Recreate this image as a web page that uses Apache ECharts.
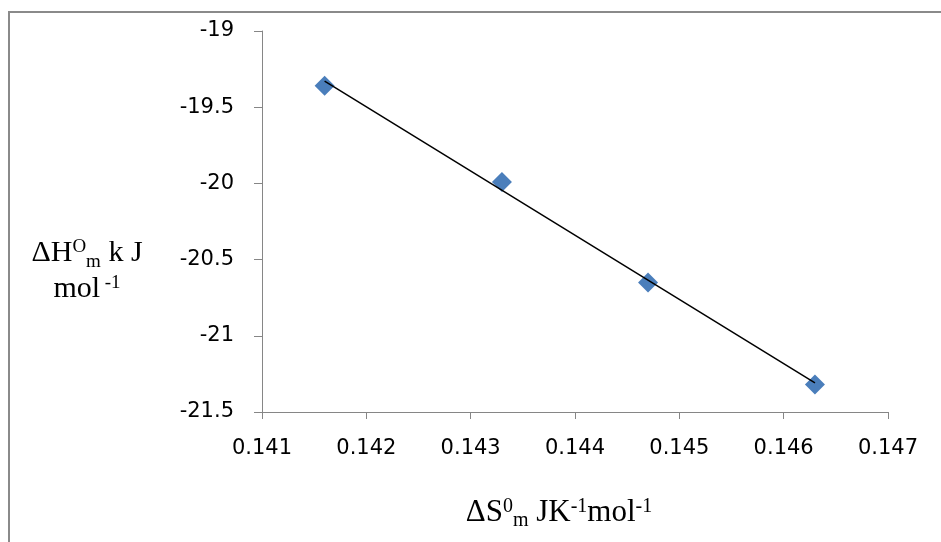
<!DOCTYPE html>
<html>
<head>
<meta charset="utf-8">
<script src="https://cdn.jsdelivr.net/npm/echarts@6/dist/echarts.min.js"></script>
<style>
html,body{margin:0;padding:0;background:#fff;}
#chart{width:941px;height:542px;}
</style>
</head>
<body>
<div id="chart"></div>
<script>
// Data
const entropyValues = [0.1416, 0.1433, 0.1447, 0.1463];     // ΔS0m (x)
const enthalpyValues = [-19.36, -19.99, -20.65, -21.32];   // ΔH0m (y)
const xTickRange = { min: 0.141, max: 0.147, step: 0.001 };
const yTickRange = { min: -21.5, max: -19, step: 0.5 };

// linear least-squares trendline computed from the data
function linearFit(xs, ys) {
  const n = xs.length;
  const mx = xs.reduce((a, b) => a + b, 0) / n;
  const my = ys.reduce((a, b) => a + b, 0) / n;
  let sxy = 0, sxx = 0;
  for (let i = 0; i < n; i++) { sxy += (xs[i] - mx) * (ys[i] - my); sxx += (xs[i] - mx) * (xs[i] - mx); }
  const slope = sxy / sxx;
  return { slope, intercept: my - slope * mx };
}
const fit = linearFit(entropyValues, enthalpyValues);
const xLo = Math.min(...entropyValues), xHi = Math.max(...entropyValues);
const trendData = [[xLo, fit.intercept + fit.slope * xLo], [xHi, fit.intercept + fit.slope * xHi]];
const scatterData = entropyValues.map((x, i) => [x, enthalpyValues[i]]);

const serif = '"Liberation Serif", "Times New Roman", serif';
const sans = '"DejaVu Sans", sans-serif';
const titleRich = {
  b: { fontFamily: serif, fontSize: 30, color: '#000', lineHeight: 36 },
  sup: { fontFamily: serif, fontSize: 19, color: '#000', verticalAlign: 'top', lineHeight: 19, padding: [2, 0, 0, 0] },
  sub: { fontFamily: serif, fontSize: 19, color: '#000', verticalAlign: 'bottom', lineHeight: 19 }
};
const xTitleRich = Object.assign({}, titleRich, {
  b: { fontFamily: serif, fontSize: 31, color: '#000', lineHeight: 36 },
  sup: { fontFamily: serif, fontSize: 20, color: '#000', verticalAlign: 'top', lineHeight: 20, padding: [2, 0, 0, 0] },
  sub: { fontFamily: serif, fontSize: 20, color: '#000', verticalAlign: 'bottom', lineHeight: 20 }
});

const chart = echarts.init(document.getElementById('chart'));
chart.setOption({
  animation: false,
  backgroundColor: '#fff',
  grid: { left: 262, right: 53, top: 31, bottom: 130, containLabel: false, outerBoundsMode: 'none' },
  graphic: [{
    type: 'rect', silent: true,
    shape: { x: 9, y: 12, width: 1000, height: 1000 },
    style: { fill: 'none', stroke: '#8a8a8a', lineWidth: 2 }
  }],
  xAxis: {
    type: 'value', min: xTickRange.min, max: xTickRange.max, interval: xTickRange.step,
    splitLine: { show: false },
    axisLine: { onZero: false, lineStyle: { color: '#868686', width: 1 } },
    axisTick: { length: 7, lineStyle: { color: '#868686' } },
    axisLabel: { margin: 26, fontFamily: sans, fontSize: 21, color: '#000', formatter: v => v.toFixed(3) },
    name: '{b|ΔS}{sup|0}{sub|m}{b| JK}{sup|-1}{b|mol}{sup|-1}',
    nameLocation: 'middle', nameGap: 83,
    nameTextStyle: { rich: xTitleRich, padding: [0, 32, 0, 0] }
  },
  yAxis: {
    type: 'value', min: yTickRange.min, max: yTickRange.max, interval: yTickRange.step,
    splitLine: { show: false },
    axisLine: { onZero: false, lineStyle: { color: '#868686', width: 1 } },
    axisTick: { length: 8, lineStyle: { color: '#868686' } },
    axisLabel: { margin: 28, fontFamily: sans, fontSize: 21, color: '#000', formatter: v => String(+v.toFixed(1)) },
    name: '{b|ΔH}{sup|O}{sub|m}{b| k J}\n{b|mol}{sup| -1}',
    nameLocation: 'middle', nameRotate: 0, nameGap: 175,
    nameTextStyle: { rich: titleRich, align: 'center', verticalAlign: 'middle', padding: [100, 0, 0, 0] }
  },
  series: [
    {
      type: 'scatter', data: scatterData, symbol: 'diamond', symbolSize: 20,
      itemStyle: { color: '#4A7EBB', opacity: 1 }, z: 2
    },
    {
      type: 'line', data: trendData, symbol: 'none',
      lineStyle: { color: '#000', width: 1.5 }, z: 3
    }
  ]
});
</script>
</body>
</html>
